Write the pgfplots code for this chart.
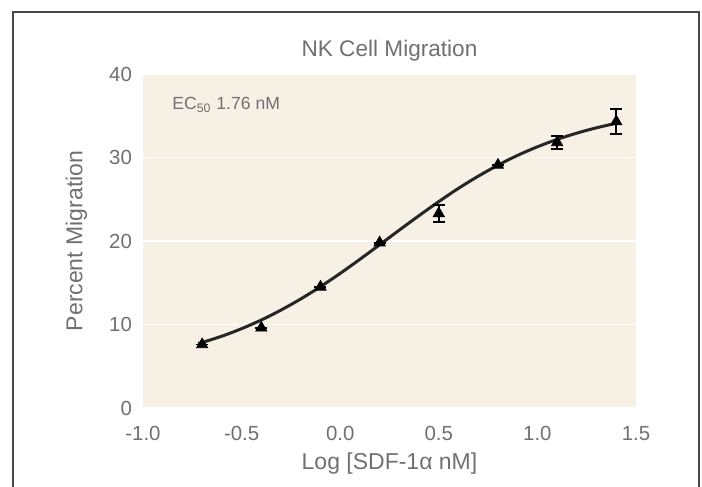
\documentclass[border=0pt]{standalone}
\usepackage{pgfplots}
\pgfplotsset{compat=1.18}
\usepackage{fontspec}
\setmainfont{Liberation Sans}
\definecolor{beige}{RGB}{247,240,229}
\definecolor{txtgray}{RGB}{112,112,112}
\definecolor{framegray}{RGB}{70,70,70}
\definecolor{curvecol}{RGB}{38,38,38}

\begin{document}
\begin{tikzpicture}
\useasboundingbox (0,0) rectangle (351pt,243.5pt);
\draw[framegray, line width=0.6pt] (6.5pt,-5pt) -- (6.5pt,237.5pt) -- (349.5pt,237.5pt) -- (349.5pt,-5pt);
\begin{axis}[
    at={(71.5pt,39.5pt)}, anchor=south west,
    scale only axis,
    width=246.5pt, height=167pt,
    xmin=-1, xmax=1.5, ymin=0, ymax=40,
    axis background/.style={fill=beige},
    axis line style={draw=none},
    major tick length=0pt,
    xtick={-1,-0.5,0,0.5,1,1.5},
    xticklabels={-1.0,-0.5,0.0,0.5,1.0,1.5},
    ytick={0,10,20,30,40},
    yticklabels={0,10,20,30,40},
    ymajorgrids,
    grid style={white, line width=0.7pt},
    ticklabel style={font=\fontsize{10.2}{12}\selectfont, text=txtgray},
    xticklabel style={yshift=-5.5pt, text height=7.4pt, text depth=0pt},
    yticklabel style={xshift=-2pt},
    title={NK Cell Migration},
    title style={at={(axis description cs:0.5,1)}, anchor=base, yshift=2.5pt,
        font=\fontsize{11.3}{13}\selectfont, text=txtgray},
    xlabel={Log [SDF-1α nM]},
    xlabel style={at={(axis description cs:0.5,-0.165)}, anchor=center,
        font=\fontsize{11.5}{13}\selectfont, text=txtgray},
    ylabel={Percent Migration},
    ylabel style={at={(axis description cs:-0.135,0.5)}, anchor=center,
        font=\fontsize{11.5}{13}\selectfont, text=txtgray},
    clip=false,
]
% fitted curve
\addplot[curvecol, line width=1.5pt, smooth, no marks] coordinates {
    (-0.72,7.70) (-0.6,8.60) (-0.5,9.50) (-0.4,10.54) (-0.3,11.73)
    (-0.2,13.06) (-0.1,14.53) (0.0,16.12) (0.1,17.81) (0.2,19.55)
    (0.3,21.31) (0.4,23.04) (0.5,24.72) (0.6,26.31) (0.7,27.76)
    (0.8,29.08) (0.9,30.26) (1.0,31.28) (1.1,32.17) (1.2,32.92)
    (1.3,33.56) (1.4,34.10)
};
% measured points
\addplot[only marks, mark=triangle*, mark size=3.2pt, black,
    error bars/.cd, y dir=both, y explicit,
    error bar style={black, line width=0.9pt},
    error mark options={rotate=90, mark size=3pt, line width=0.9pt, black}]
    coordinates {
    (-0.7,7.6) +- (0,0)
    (-0.4,9.6) +- (0,0)
    (-0.1,14.5) +- (0,0)
    (0.2,19.8) +- (0,0)
    (0.5,23.3) +- (0,1.0)
    (0.8,29.1) +- (0,0)
    (1.1,31.8) +- (0,0.75)
    (1.4,34.3) +- (0,1.5)
};
\node[anchor=base west, inner sep=0pt, text=txtgray, font=\fontsize{8.8}{10}\selectfont]
    at (axis cs:-0.853,35.7) {EC\textsubscript{50} 1.76 nM};
\end{axis}
\end{tikzpicture}
\end{document}
